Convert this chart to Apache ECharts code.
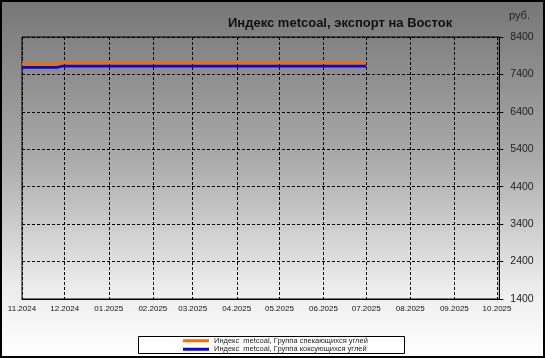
<!DOCTYPE html>
<html><head><meta charset="utf-8">
<script src="https://cdn.jsdelivr.net/npm/echarts@6/dist/echarts.min.js"></script>
<style>html,body{margin:0;padding:0;background:#fff}#c{width:545px;height:358px}</style>
</head><body><div id="c"></div>
<script>
const dates = ['2024-11-01','2024-11-08','2024-11-15','2024-11-22','2024-11-29',
  '2024-12-06','2024-12-13','2024-12-20','2024-12-27',
  '2025-01-03','2025-01-10','2025-01-17','2025-01-24','2025-01-31',
  '2025-02-07','2025-02-14','2025-02-21','2025-02-28',
  '2025-03-07','2025-03-14','2025-03-21','2025-03-28',
  '2025-04-04','2025-04-11','2025-04-18','2025-04-25',
  '2025-05-02','2025-05-09','2025-05-16','2025-05-23','2025-05-30',
  '2025-06-06','2025-06-13','2025-06-20','2025-06-27','2025-07-01'];
const sinteringValues = [7685,7685,7685,7685,7710,7710,7710,7710,7710,7710,7710,7710,7710,7710,7710,7710,7710,7710,7710,7710,7710,7710,7710,7710,7710,7710,7710,7710,7710,7710,7710,7710,7710,7710,7710,7710];
const cokingValues = [7590,7590,7590,7590,7620,7620,7620,7620,7620,7620,7620,7620,7620,7620,7620,7620,7620,7620,7620,7620,7620,7620,7620,7620,7620,7620,7620,7620,7620,7620,7620,7620,7620,7620,7620,7620];
const seriesNames = ['Индекс  metcoal, Группа спекающихся углей','Индекс  metcoal, Группа коксующихся углей'];
const monthTicks = ['2024-11','2024-12','2025-01','2025-02','2025-03','2025-04','2025-05','2025-06','2025-07','2025-08','2025-09','2025-10'];
const monthLabels = ['11.2024','12.2024','01.2025','02.2025','03.2025','04.2025','05.2025','06.2025','07.2025','08.2025','09.2025','10.2025'];
const yTicks = [1400,2400,3400,4400,5400,6400,7400,8400];
const titleText = 'Индекс metcoal, экспорт на Восток';
const unitText = 'руб.';

const FONT = 'Liberation Sans, Arial, sans-serif';
const DAY = 86400000;
const toTs = s => { const p = s.split('-').map(Number); return Date.UTC(p[0], p[1]-1, p[2] || 1); };
const tickVals = monthTicks.map(toTs);
const xMin = tickVals[0];
const xMax = tickVals[tickVals.length-1] + 1.6*DAY;
const fmt = v => { const i = tickVals.indexOf(v); return i >= 0 ? monthLabels[i] : ''; };
const chart = echarts.init(document.getElementById('c'));
chart.setOption({
  animation: false,
  backgroundColor: new echarts.graphic.LinearGradient(0,0,0,1,[
    {offset:0,color:'#767676'},{offset:0.45,color:'#ababab'},{offset:0.8,color:'#ececec'},{offset:1,color:'#ffffff'}]),
  title: { text: titleText, left: 228, top: 17, padding: 0,
    textStyle: { fontFamily: FONT, fontSize: 13, fontWeight: 'bold', color: '#111' } },
  graphic: [
    { type:'rect', z:0, shape:{x:1,y:1,width:543,height:356}, style:{fill:'none', stroke:'#000', lineWidth:2} },
    { type:'rect', z:0, shape:{x:138.5,y:336.5,width:266,height:17}, style:{fill:'#fff', stroke:'#000', lineWidth:1} },
    { type:'text', z:5, left:509, top:10, style:{text:unitText, font:'11px '+FONT, fill:'#222'} }
  ],
  legend: { orient:'vertical', left:183, top:336.5, padding:0, itemGap:0, itemWidth:26, itemHeight:3, icon:'rect',
    textStyle:{ fontFamily:FONT, fontSize:7.5, color:'#222', lineHeight:8.5 },
    data: seriesNames },
  grid: { left:22, top:37, right:45.7, bottom:59, show:true, borderColor:'#000', borderWidth:1, backgroundColor:'transparent' },
  xAxis: { type:'value', min:xMin, max:xMax,
    axisLine:{show:true, lineStyle:{color:'#000', width:1}},
    axisTick:{show:false, customValues: tickVals},
    axisLabel:{ customValues: tickVals, formatter: fmt, fontFamily:FONT, fontSize:8, color:'#111', margin:6 },
    splitLine:{show:true, lineStyle:{color:'#000', type:[3,2], width:1}} },
  yAxis: { type:'value', position:'right', min:yTicks[0], max:yTicks[yTicks.length-1], interval:1000,
    axisLine:{show:true, lineStyle:{color:'#000'}},
    axisTick:{show:true, length:4, lineStyle:{color:'#000'}},
    axisLabel:{ fontFamily:FONT, fontSize:10.5, color:'#222', margin:11, formatter: v => String(v) },
    splitLine:{show:true, lineStyle:{color:'#000', type:[3,2], width:1}} },
  series: [
    { name: seriesNames[0], type:'line', step:'middle', symbol:'none', color:'#ff6a00', lineStyle:{width:2.7, color:'#ff6a00'},
      data: dates.map((d,i)=>[toTs(d), sinteringValues[i]]) },
    { name: seriesNames[1], type:'line', step:'middle', symbol:'none', color:'#0808d8', lineStyle:{width:2.7, color:'#0808d8'},
      data: dates.map((d,i)=>[toTs(d), cokingValues[i]]) }
  ]
});
</script></body></html>
